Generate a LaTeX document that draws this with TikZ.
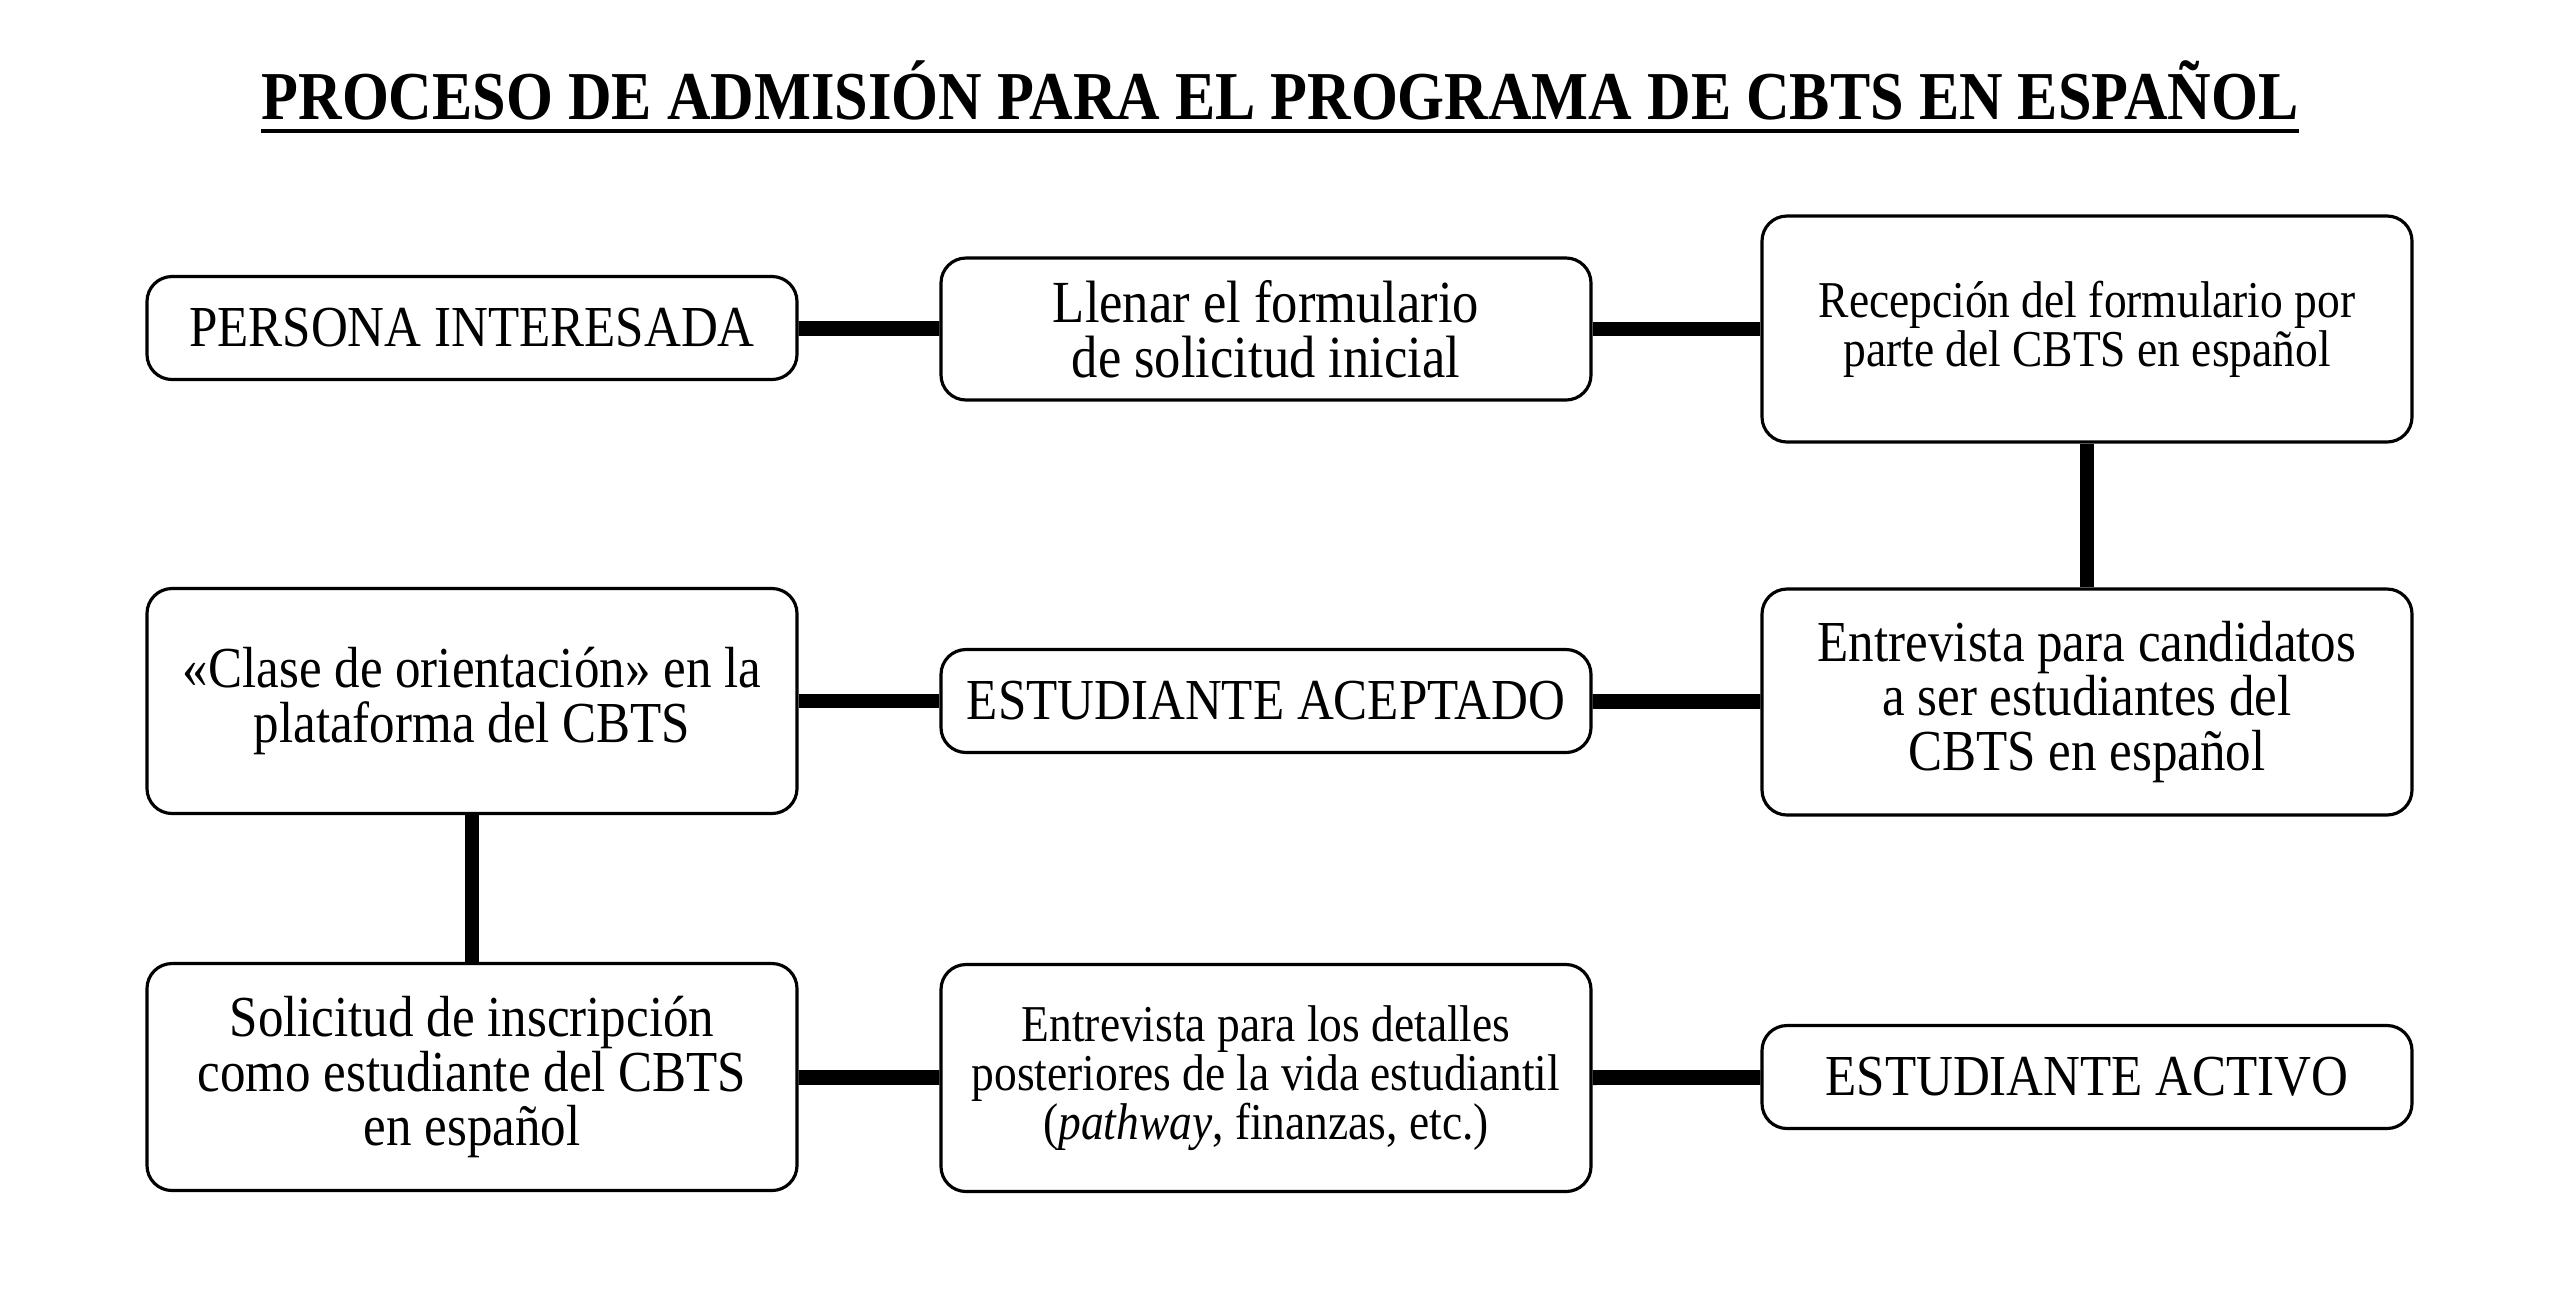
\documentclass[tikz,border=0pt]{standalone}
\usepackage{fontspec}
\setmainfont{Liberation Serif}[FakeStretch=0.88]
\usetikzlibrary{positioning}

\begin{document}
\begin{tikzpicture}[x=1cm,y=1cm]
\tikzset{
  stepbox/.style={rectangle,rounded corners=2.5mm,draw=black,line width=0.9pt,fill=white,minimum width=6.5cm,align=center,inner sep=2pt,font=\fontsize{16.5}{15.4}\selectfont},
  smallbox/.style={stepbox,font=\fontsize{14.7}{13.9}\selectfont},
  linkline/.style={draw=black,line width=4.2pt}
}
\useasboundingbox (0,0) rectangle (25.6,-12.98);
% title
\node[inner sep=0pt,anchor=base,font=\fontsize{19.5}{22}\selectfont\bfseries] (n_title) at (12.8,-1.19) {PROCESO DE ADMISIÓN PARA EL PROGRAMA DE CBTS EN ESPAÑOL};
\draw[line width=1.4pt] ([yshift=-1.2mm]n_title.base west) -- ([yshift=-1.2mm]n_title.base east);
% first row
\node[stepbox,minimum height=1.03cm] (n_persona) at (4.72,-3.28) {PERSONA INTERESADA};
\node[stepbox,minimum height=1.42cm,font=\fontsize{17}{15.6}\selectfont] (n_llenar) at (12.66,-3.29) {Llenar el formulario\\de solicitud inicial};
\node[smallbox,minimum height=2.26cm] (n_recepcion) at (20.87,-3.29) {Recepción del formulario por\\parte del CBTS en español};
% second row
\node[stepbox,minimum height=2.25cm] (n_clase) at (4.72,-7.01) {«Clase de orientación» en la\\plataforma del CBTS};
\node[stepbox,minimum height=1.03cm] (n_aceptado) at (12.66,-7.01) {ESTUDIANTE ACEPTADO};
\node[stepbox,minimum height=2.26cm] (n_candidatos) at (20.87,-7.02) {Entrevista para candidatos\\a ser estudiantes del\\CBTS en español};
% third row
\node[stepbox,minimum height=2.27cm] (n_solicitud) at (4.72,-10.77) {Solicitud de inscripción\\como estudiante del CBTS\\en español};
\node[smallbox,minimum height=2.27cm] (n_detalles) at (12.66,-10.78) {Entrevista para los detalles\\posteriores de la vida estudiantil\\(\textit{pathway}, finanzas, etc.)};
\node[stepbox,minimum height=1.03cm] (n_activo) at (20.87,-10.77) {ESTUDIANTE ACTIVO};
\draw[linkline] (n_persona) -- (n_llenar);
\draw[linkline] (n_llenar) -- (n_recepcion);
\draw[linkline] (n_recepcion) -- (n_candidatos);
\draw[linkline] (n_candidatos) -- (n_aceptado);
\draw[linkline] (n_aceptado) -- (n_clase);
\draw[linkline] (n_clase) -- (n_solicitud);
\draw[linkline] (n_solicitud) -- (n_detalles);
\draw[linkline] (n_detalles) -- (n_activo);
\end{tikzpicture}
\end{document}
